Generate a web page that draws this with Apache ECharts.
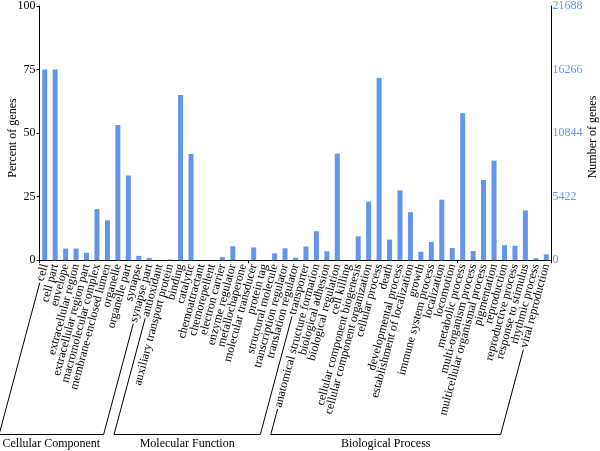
<!DOCTYPE html>
<html><head><meta charset="utf-8">
<script src="https://cdn.jsdelivr.net/npm/echarts@6/dist/echarts.min.js"></script>
<style>html,body{margin:0;padding:0;background:#fff}#c{width:600px;height:451px}</style>
</head><body><div id="c"></div>
<script>
const categories = [
  'cell','cell part','envelope','extracellular region','extracellular region part','macromolecular complex','membrane-enclosed lumen','organelle','organelle part','synapse','synapse part',
  'antioxidant','auxiliary transport protein','binding','catalytic','chemoattractant','chemorepellent','electron carrier','enzyme regulator','metallochaperone','molecular transducer','protein tag','structural molecule','transcription regulator','translation regulator','transporter',
  'anatomical structure formation','biological adhesion','biological regulation','cell killing','cellular component biogenesis','cellular component organization','cellular process','death','developmental process','establishment of localization','growth','immune system process','localization','locomotion','metabolic process','multi-organism process','multicellular organismal process','pigmentation','reproduction','reproductive process','response to stimulus','rhythmic process','viral reproduction'
];
const percentValues = [
  75, 75, 4.6, 4.6, 2.9, 20.1, 15.7, 53.2, 33.3, 1.7, 0.9,
  0, 0.3, 65, 41.8, 0, 0, 1.2, 5.5, 0, 5.0, 0, 2.7, 4.7, 1.0, 5.4,
  11.4, 3.5, 41.9, 0, 9.4, 23.0, 71.7, 8.1, 27.5, 18.9, 3.3, 7.2, 23.8, 4.8, 57.8, 3.6, 31.6, 39.2, 5.9, 5.7, 19.6, 0.8, 2.3
];
const groupNames = ['Cellular Component','Molecular Function','Biological Process'];
const groupSizes = [11, 15, 23];
const percentTicks = [0, 25, 50, 75, 100];
const geneTicks = [0, 5422, 10844, 16266, 21688];

const FONT = 'Liberation Serif';
const BLUE = '#6495ED';
const ROT = 75;
const LABEL_MARGIN = 4;

const chart = echarts.init(document.getElementById('c'), null, {renderer: 'canvas'});
const option = {
  animation: false,
  backgroundColor: '#fff',
  textStyle: {fontFamily: FONT},
  grid: {left: 39.5, width: 512, top: 4.7, height: 255.5},
  xAxis: [{
    type: 'category', data: categories, position: 'bottom',
    axisLine: {lineStyle: {color: '#000', width: 1}},
    axisTick: {show: false},
    axisLabel: {interval: 0, rotate: ROT, margin: LABEL_MARGIN, color: '#000', fontFamily: FONT, fontSize: 12}
  }, {
    type: 'category', data: categories, position: 'top',
    axisLine: {lineStyle: {color: '#000', width: 1}},
    axisTick: {show: true, inside: true, length: 3, lineStyle: {color: '#000'}},
    axisLabel: {show: false}
  }],
  yAxis: [{
    type: 'value', min: percentTicks[0], max: percentTicks[percentTicks.length-1], interval: percentTicks[1]-percentTicks[0],
    axisLine: {show: true, lineStyle: {color: '#000'}},
    axisTick: {show: true, length: 3, lineStyle: {color: '#000'}},
    axisLabel: {color: '#000', fontFamily: FONT, fontSize: 12, margin: 4},
    splitLine: {show: false}
  }, {
    type: 'value', position: 'right', min: geneTicks[0], max: geneTicks[geneTicks.length-1], interval: geneTicks[1]-geneTicks[0],
    axisLine: {show: true, lineStyle: {color: '#000'}},
    axisTick: {show: false},
    axisLabel: {color: BLUE, fontFamily: FONT, fontSize: 12, margin: 1, formatter: v => String(v)},
    splitLine: {show: false}
  }],
  series: [{
    type: 'bar', data: percentValues, xAxisIndex: 0, yAxisIndex: 0,
    barWidth: 5, itemStyle: {color: BLUE}
  }],
  graphic: []
};
chart.setOption(option);

const ctx = document.createElement('canvas').getContext('2d');
ctx.font = '12px "' + FONT + '"';
const th = ROT * Math.PI / 180;
const ddx = -Math.cos(th), ddy = Math.sin(th);
const baseY = chart.convertToPixel({yAxisIndex: 0}, 0);
const bracketY = 434.5;
const GAP = 2;
function startPt(i) {
  const x = chart.convertToPixel({xAxisIndex: 0}, i);
  const w = ctx.measureText(categories[i]).width + GAP;
  return [x + ddx * w, baseY + LABEL_MARGIN + ddy * w];
}
function endPt(p) {
  const t = (bracketY - p[1]) / ddy;
  return [p[0] + ddx * t, bracketY];
}
const graphics = [];
let idx = 0;
const tstyle = (text, align) => ({text, fill: '#000', fontFamily: FONT, fontSize: 12, align: align || 'center', verticalAlign: 'middle'});
groupNames.forEach((name, g) => {
  const first = idx, last = idx + groupSizes[g] - 1;
  idx += groupSizes[g];
  const s1 = startPt(first), s2 = startPt(last);
  const e1 = endPt(s1), e2 = endPt(s2);
  graphics.push({type: 'polyline', shape: {points: [s1, e1, e2, s2]}, style: {stroke: '#000', lineWidth: 1, fill: null}, silent: true});
  const tw = ctx.measureText(name).width;
  let cx = (e1[0] + e2[0]) / 2;
  if (cx - tw / 2 < 2) cx = 2 + tw / 2;
  graphics.push({type: 'text', x: cx, y: 443.5, style: tstyle(name), silent: true});
});
graphics.push({type: 'text', x: 13, y: 138, rotation: Math.PI / 2, style: tstyle('Percent of genes')});
graphics.push({type: 'text', x: 593, y: 137, rotation: Math.PI / 2, style: tstyle('Number of genes')});
chart.setOption({graphic: graphics});
</script>
</body></html>
